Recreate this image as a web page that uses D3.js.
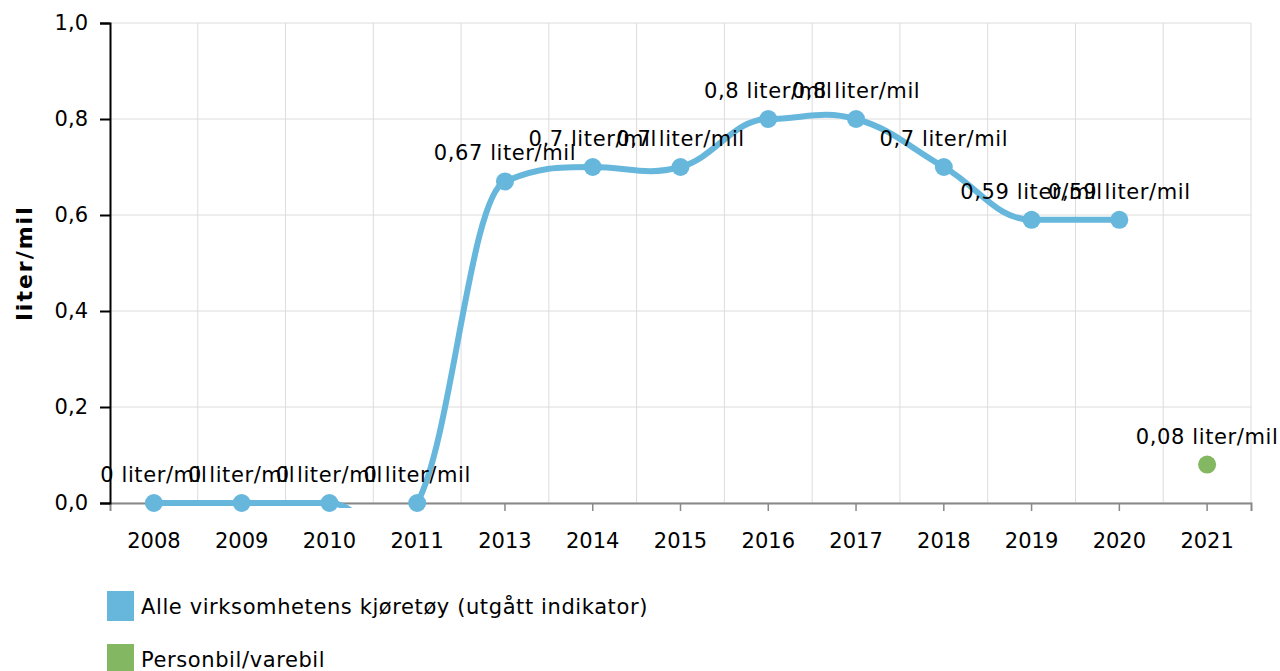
<!DOCTYPE html>
<html><head><meta charset="utf-8">
<script src="https://cdn.jsdelivr.net/npm/d3@7"></script>
<style>body{margin:0;background:#fff}svg text{font-family:"DejaVu Sans",Verdana,sans-serif}</style>
</head><body><svg id="c" width="1280" height="671"></svg>
<script>
const categories = ["2008","2009","2010","2011","2013","2014","2015","2016","2017","2018","2019","2020","2021"];
const seriesNames = ["Alle virksomhetens kjøretøy (utgått indikator)","Personbil/varebil"];
const allVehicles = [0,0,0,0,0.67,0.7,0.7,0.8,0.8,0.7,0.59,0.59,null];
const carVan = [null,null,null,null,null,null,null,null,null,null,null,null,0.08];
const yTicks = [0,0.2,0.4,0.6,0.8,1.0];
const colors = ["#67b7dc","#84b761"];
const unit = "liter/mil";

// spline curve (control points at 0.4 of neighbour distance, no overshoot past next point)
function SplineCurve(context){ this._context = context; }
SplineCurve.prototype = {
  areaStart(){ this._line = 0; }, areaEnd(){ this._line = NaN; },
  lineStart(){ this._pts = []; },
  point(x,y){ this._pts.push([+x,+y]); },
  lineEnd(){
    const p = this._pts, c = this._context, n = p.length;
    if(!n) return;
    const sm = 1.5, den = sm + 1, L = [], R = [];
    for(let i=1;i<n-1;i++){
      const [px,py]=p[i],[lx,ly]=p[i-1],[nx,ny]=p[i+1];
      let lcx=(sm*px+lx)/den, lcy=(sm*py+ly)/den, rcx=(sm*px+nx)/den, rcy=(sm*py+ny)/den;
      const corr = rcx!==lcx ? ((rcy-lcy)*(rcx-px))/(rcx-lcx)+py-rcy : 0;
      lcy+=corr; rcy+=corr;
      if(rcy>ny && rcy>py){ rcy=Math.max(ny,py); lcy=2*py-rcy; }
      else if(rcy<ny && rcy<py){ rcy=Math.min(ny,py); lcy=2*py-rcy; }
      L[i]=[lcx,lcy]; R[i]=[rcx,rcy];
    }
    c.moveTo(p[0][0],p[0][1]);
    for(let i=1;i<n;i++){
      const a=R[i-1]||p[i-1], b=L[i]||p[i];
      c.bezierCurveTo(a[0],a[1],b[0],b[1],p[i][0],p[i][1]);
    }
  }
};
const curveSpline = ctx => new SplineCurve(ctx);

const svg = d3.select("#c");
const m = {l:110,r:1251,t:23,b:503};
const x = d3.scaleBand().domain(categories).range([m.l,m.r]).padding(0);
const y = d3.scaleLinear().domain([0,1]).range([m.b,m.t]);
const fmt = v => d3.format(".1f")(v).replace(".",",");
const fmtLab = v => String(v).replace(".",",") + " " + unit;
const FS = 21;

// grid
svg.append("g").selectAll("line").data(yTicks).join("line")
  .attr("x1",m.l).attr("x2",m.r).attr("y1",d=>y(d)).attr("y2",d=>y(d))
  .attr("stroke","#dcdcdc").attr("stroke-width",1);
const bounds = categories.map(c=>x(c)+x.bandwidth());
svg.append("g").selectAll("line").data(bounds).join("line")
  .attr("x1",d=>d).attr("x2",d=>d).attr("y1",m.t).attr("y2",m.b)
  .attr("stroke","#dcdcdc").attr("stroke-width",1);

// axes
const xa = svg.append("g").attr("transform",`translate(0,${m.b})`)
  .call(d3.axisBottom(x).tickSize(8).tickPadding(22));
xa.select(".domain").attr("stroke","#888").attr("stroke-width",2);
xa.selectAll(".tick line").attr("stroke","#888").attr("stroke-width",1.5);
xa.selectAll("text").attr("font-size",FS).attr("fill","#000").style("font-family","DejaVu Sans");
const ya = svg.append("g").attr("transform",`translate(${m.l},0)`)
  .call(d3.axisLeft(y).tickValues(yTicks).tickFormat(fmt).tickSize(10).tickPadding(12));
ya.select(".domain").attr("stroke","#000").attr("stroke-width",2);
ya.selectAll(".tick line").attr("stroke","#000").attr("stroke-width",2);
ya.selectAll("text").attr("font-size",FS).attr("fill","#000").style("font-family","DejaVu Sans");

svg.append("text").attr("transform",`translate(32,${(m.t+m.b)/2}) rotate(-90)`)
  .attr("text-anchor","middle").attr("font-size",22).attr("font-weight","bold")
  .attr("letter-spacing",2).text(unit);

// clip
svg.append("clipPath").attr("id","clip").append("rect")
  .attr("x",m.l).attr("y",m.t-20).attr("width",m.r-m.l+20).attr("height",m.b-m.t+25);

const series = [allVehicles, carVan];
series.forEach((vals,i)=>{
  const pts = categories.map((c,j)=>({c,v:vals[j]})).filter(d=>d.v!=null);
  const line = d3.line().x(d=>x(d.c)+x.bandwidth()/2).y(d=>y(d.v)).curve(curveSpline);
  if(pts.length>1) svg.append("path").datum(pts).attr("d",line).attr("fill","none")
    .attr("stroke",colors[i]).attr("stroke-width",6).attr("clip-path","url(#clip)");
  svg.append("g").selectAll("circle").data(pts).join("circle")
    .attr("cx",d=>x(d.c)+x.bandwidth()/2).attr("cy",d=>y(d.v)).attr("r",9).attr("fill",colors[i]);
  svg.append("g").selectAll("text").data(pts).join("text")
    .attr("x",d=>x(d.c)+x.bandwidth()/2).attr("y",d=>y(d.v)-21)
    .attr("text-anchor","middle").attr("font-size",FS).attr("letter-spacing",0.6)
    .attr("fill","#000").text(d=>fmtLab(d.v));
});

// legend
const lg = svg.append("g");
seriesNames.forEach((n,i)=>{
  const yy = 591 + i*53;
  lg.append("rect").attr("x",107).attr("y",yy).attr("width",27).attr("height",30).attr("fill",colors[i]);
  lg.append("text").attr("x",141).attr("y",yy+23).attr("font-size",FS).attr("letter-spacing",0.6).text(n);
});
</script></body></html>
